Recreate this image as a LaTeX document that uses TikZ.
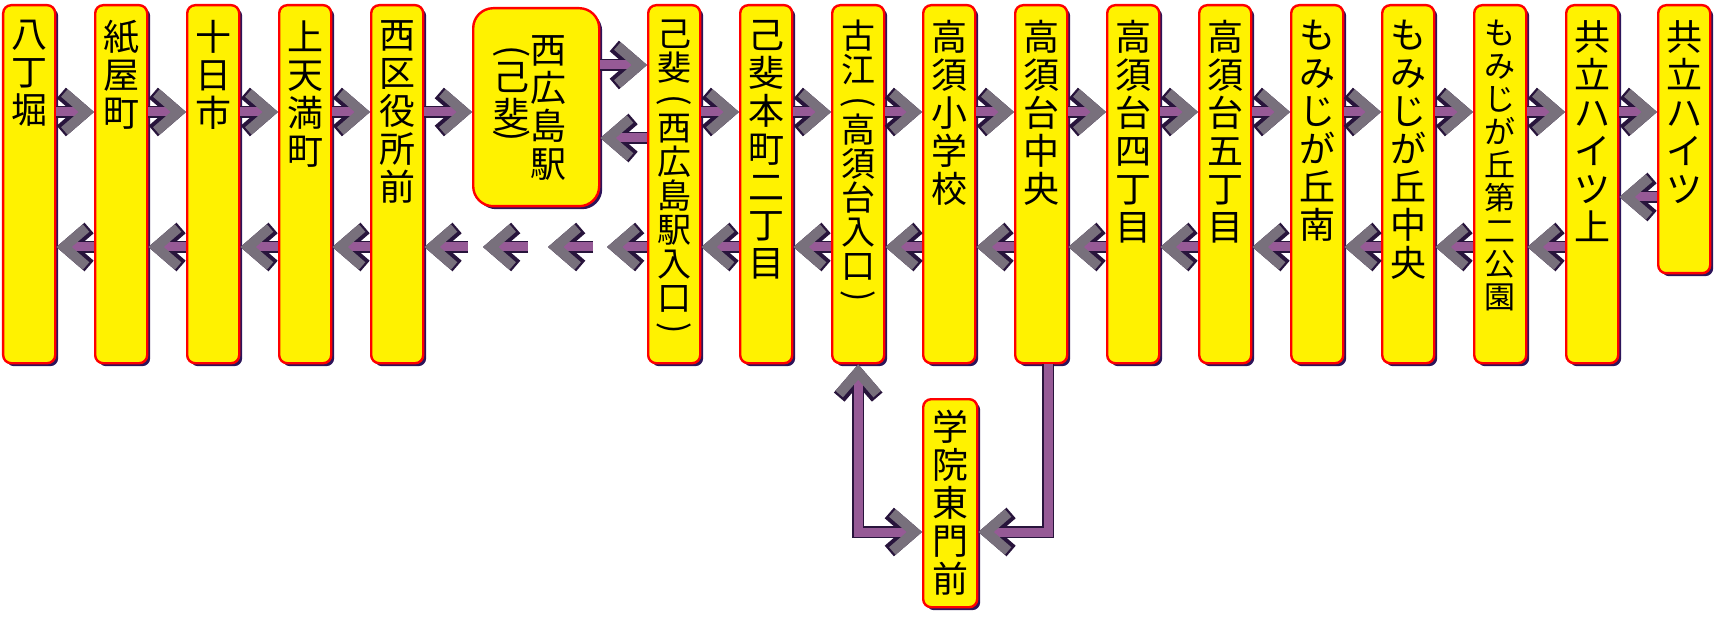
\documentclass[tikz,border=0pt]{standalone}
\usepackage{graphicx}
\usepackage{fontspec}
\setmainfont{Noto Sans CJK JP}
\usetikzlibrary{arrows.meta,shadows}
\definecolor{shaftc}{RGB}{150,90,150}
\definecolor{chevc}{RGB}{120,112,124}
\definecolor{edgec}{RGB}{40,20,60}
\definecolor{shadec}{RGB}{45,20,90}
\newcommand{\vpo}{\rotatebox[origin=c]{-90}{(}}
\newcommand{\vpc}{\rotatebox[origin=c]{-90}{)}}
\tikzset{
    chevin/.tip={Straight Barb[length=11pt,width=19pt,line width=5pt,color=chevc]},
    chevout/.tip={Straight Barb[length=11pt,width=19pt,line width=7pt]},
    busstop/.style={rectangle,rounded corners=4pt,draw=red,line width=1.2pt,fill=yellow,
      inner sep=0pt,minimum width=26pt,minimum height=179pt,anchor=north west,
      general shadow={fill=shadec,shadow xshift=1.5pt,shadow yshift=-1.5pt}},
    tate/.style={font=\fontsize{18pt}{19pt}\selectfont,align=center,inner sep=0pt,anchor=north,yshift=-8pt},
    tatep/.style={tate,font=\fontsize{17pt}{17pt}\selectfont},
    tatesm/.style={tate,font=\fontsize{15.5pt}{16.5pt}\selectfont},
    arr/.style={draw=shaftc,line width=4.5pt,-{chevin},
      preaction={draw=edgec,line width=6pt,-{chevout}}},
    arrb/.style={draw=shaftc,line width=4.5pt,{chevin}-{chevin},
      preaction={draw=edgec,line width=6pt,{chevout}-{chevout}}},
  }
\begin{document}
\begin{tikzpicture}[x=0.5pt,y=-0.5pt]
\useasboundingbox (0,0) rectangle (1724,620);
%rangees des fleches
\coordinate (up) at (0,112);
\coordinate (dn) at (0,247);
\coordinate (st1) at (0,65);
\coordinate (st2) at (0,138);
\coordinate (kh) at (0,197);
\coordinate (kj) at (0,532);
%arrets
\node[busstop,label={[tate]north:八\\丁\\堀}] (hatchobori) at (2,4) {};
\node[busstop,label={[tate]north:紙\\屋\\町}] (kamiyacho) at (94,4) {};
\node[busstop,label={[tate]north:十\\日\\市}] (tokaichi) at (186,4) {};
\node[busstop,label={[tate]north:上\\天\\満\\町}] (kamitenma) at (278,4) {};
\node[busstop,label={[tate]north:西\\区\\役\\所\\前}] (nishiku) at (370,4) {};
\node[busstop,rounded corners=10pt,minimum width=63pt,minimum height=99pt,
  label={[tate,xshift=6pt,yshift=-6pt]north:西\\広\\島\\駅},
  label={[tate,xshift=-12.5pt,yshift=-11pt]north:\vpo\\[-5pt]己\\斐\\[-10pt]\vpc}] (nishihiro) at (472,7) {};
\node[busstop,label={[tatep]north:己\\斐\\[-2pt]\vpo\\[-2pt]西\\広\\島\\駅\\入\\口\\[-3pt]\vpc}] (koi) at (647,4) {};
\node[busstop,label={[tate]north:己\\斐\\本\\町\\二\\丁\\目}] (koihon) at (739,4) {};
\node[busstop,label={[tatep]north:古\\江\\[-2pt]\vpo\\[-2pt]高\\須\\台\\入\\口\\[-3pt]\vpc}] (furue) at (831,4) {};
\node[busstop,label={[tate]north:高\\須\\小\\学\\校}] (takasusho) at (922,4) {};
\node[busstop,label={[tate]north:高\\須\\台\\中\\央}] (takasuchuo) at (1014,4) {};
\node[busstop,label={[tate]north:高\\須\\台\\四\\丁\\目}] (takasu4) at (1106,4) {};
\node[busstop,label={[tate]north:高\\須\\台\\五\\丁\\目}] (takasu5) at (1198,4) {};
\node[busstop,label={[tate]north:も\\み\\じ\\が\\丘\\南}] (momiminami) at (1290,4) {};
\node[busstop,label={[tate]north:も\\み\\じ\\が\\丘\\中\\央}] (momichuo) at (1381,4) {};
\node[busstop,label={[tatesm]north:も\\み\\じ\\が\\丘\\第\\二\\公\\園}] (momikoen) at (1473,4) {};
\node[busstop,label={[tate]north:共\\立\\ハ\\イ\\ツ\\上}] (kyoritsuue) at (1565,4) {};
\node[busstop,minimum height=134pt,label={[tate]north:共\\立\\ハ\\イ\\ツ}] (kyoritsu) at (1657,4) {};
\node[busstop,minimum width=27pt,minimum height=104pt,label={[tate,yshift=2pt]north:学\\院\\東\\門\\前}] (gakuin) at (922,398) {};
%aller
\foreach \a/\b in {hatchobori/kamiyacho,kamiyacho/tokaichi,tokaichi/kamitenma,kamitenma/nishiku,
    nishiku/nishihiro,koi/koihon,koihon/furue,furue/takasusho,takasusho/takasuchuo,
    takasuchuo/takasu4,takasu4/takasu5,takasu5/momiminami,momiminami/momichuo,
    momichuo/momikoen,momikoen/kyoritsuue,kyoritsuue/kyoritsu}
  \draw[arr] (\a.east |- up) -- (\b.west |- up);
\draw[arr] (nishihiro.east |- st1) -- (koi.west |- st1);
\draw[arr] (koi.west |- st2) -- (nishihiro.east |- st2);
%retour
\draw[arr] (kyoritsu.west |- kh) -- (kyoritsuue.east |- kh);
\foreach \a/\b in {hatchobori/kamiyacho,kamiyacho/tokaichi,tokaichi/kamitenma,kamitenma/nishiku,
    koi/koihon,koihon/furue,furue/takasusho,takasusho/takasuchuo,
    takasuchuo/takasu4,takasu4/takasu5,takasu5/momiminami,momiminami/momichuo,
    momichuo/momikoen,momikoen/kyoritsuue}
  \draw[arr] (\b.west |- dn) -- (\a.east |- dn);
\coordinate (skipA) at (607,247);
\coordinate (skipB) at (593,247);
\coordinate (skipC) at (548,247);
\coordinate (skipD) at (528,247);
\coordinate (skipE) at (483,247);
\coordinate (skipF) at (468,247);
\draw[arr] (koi.west |- dn) -- (skipA);
\draw[arr] (skipB) -- (skipC);
\draw[arr] (skipD) -- (skipE);
\draw[arr] (skipF) -- (nishiku.east |- dn);
%gakuin
\draw[arrb] (furue.south) |- (gakuin.west |- kj);
\draw[arr] ([xshift=3.5pt]takasuchuo.south) |- (gakuin.east |- kj);
\end{tikzpicture}
\end{document}
